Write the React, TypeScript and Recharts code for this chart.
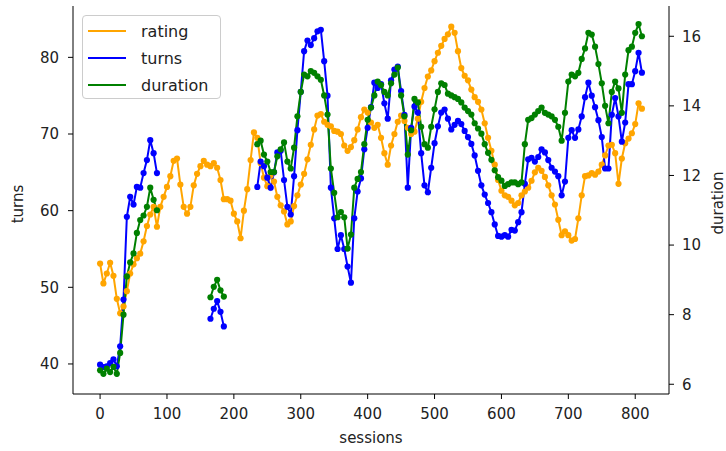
import { LineChart, Line, XAxis, YAxis } from 'recharts'

const RATING = [
  53.1, 50.5, 51.8, 53.2, 51.5, 48.5, 46.6, 47.5, 49.5, 51.8,
  53, 53.8, 54.4, 56, 58, 59.5, 60.5, 57.9, 60.5, 61.8,
  63.1, 64.5, 66.5, 66.8, 63.4, 60.5, 59.6, 60.5, 63.3, 64.8,
  65.8, 66.5, 66, 65.8, 66.2, 65.6, 64, 61.5, 61.5, 61.3,
  59.6, 58.6, 56.4, 60, 62.8, 66.6, 70.2, 69.5, 66.2, 64.3,
  63.2, 64.6, 63.8, 61.8, 60.7, 59.9, 58.2, 58.6, 60.6, 62,
  63.4, 64.8, 66.7, 68.6, 70.6, 72.4, 72.6, 71.6, 71.2, 71,
  70.4, 70.3, 70, 68.5, 67.8, 68.3, 69.2, 70.6, 72.2, 73.2,
  72.8, 71.5, 70.8, 71.2, 69.5, 67.5, 66, 68.5, 70, 71.6,
  72.4, 71.7, 70.8, 70, 70.3, 72, 74.2, 76, 77.5, 78.3,
  79.5, 80.6, 81.5, 82.4, 83, 84, 83.2, 80.8, 78.6, 77.6,
  77, 75.8, 74.8, 74.2, 73.2, 71.4, 69.5, 67.8, 66, 64,
  62.6, 62, 61.8, 61.3, 60.7, 61, 62, 62.5, 63, 63.9,
  65, 65.6, 65.2, 64.4, 63.3, 62, 60.8, 58.8, 56.8, 57.3,
  56.8, 56.1, 56.3, 59, 62, 64.5, 64.6, 64.9, 64.7, 65.1,
  66, 67.2, 68.5, 68.6, 67.5, 63.5, 66.8, 68.8, 69.4, 70.1,
  71.3, 74, 73.3,
]

const TURNS = [
  39.9, 39.6, 39.7, 40.1, 40.6, 39.7, 42.3, 48.4, 59.2, 61.8,
  60.8, 63.1, 63, 64.9, 66.6, 69.2, 67.5, 64.9, null, null,
  null, null, null, null, null, null, null, null, null, null,
  null, null, null, 45.9, 47.2, 48.2, 46.8, 44.9, null, null,
  null, null, null, null, null, null, null, 63.1, 66.4, 65.8,
  64.3, 63, 65, 67.6, 67.8, 64, 60.5, 59.5, 64.5, 70.5,
  75.5, 80.8, 82.2, 81.6, 82.5, 83.4, 83.6, 79.5, 75, 63,
  59, 55, 56.8, 55, 52.7, 50.6, 59, 62.5, 64.2, 68,
  70.8, 73.5, 76.7, 76, 76.5, 74, 72, 77, 78.4, 78.8,
  75.6, 72.5, 63, 70.8, 73.6, 72.8, 67.5, 63.3, 62.4, 65.6,
  68.8, 71, 72.8, 73.2, 72, 70.6, 71.2, 71.7, 71.3, 70.4,
  69.6, 68.7, 67.2, 65.2, 63.3, 62.1, 61, 59.8, 58.2, 56.7,
  56.6, 56.8, 56.6, 57.5, 57.4, 58.5, 59.8, 63.5, 66.7, 66.9,
  66.4, 67, 68, 67.6, 66.6, 65.6, 65.1, 64.5, 62, 63.8,
  69.5, 70.5, 69.5, 70.6, 72.3, 74.8, 76.7, 75, 73.5, 71.8,
  69.6, 65.5, 65.5, 72.5, 74.7, 72.3, 69, 71.5, 76.5, 76.5,
  78.2, 80.6, 78,
]

const DURATION = [
  6.4, 6.3, 6.45, 6.35, 6.5, 6.3, 6.9, 8.0, 9.1, 9.5,
  9.76, 10.35, 10.72, 10.85, 11.1, 11.65, 11.3, 11.0, null, null,
  null, null, null, null, null, null, null, null, null, null,
  null, null, null, 8.5, 8.8, 9.0, 8.7, 8.52, null, null,
  null, null, null, null, null, null, null, 12.9, 13.0, 12.6,
  12.4, 12.1, 12.1, 12.55, 12.75, 12.95, 12.4, 12.2, 12.8, 13.7,
  14.4, 14.9, 14.85, 15.0, 14.95, 14.85, 14.75, 14.3, 13.75, 12.2,
  11.5, 10.8, 10.95, 10.8, 9.9, 10.3, 11.65, 11.9, 12.1, 12.9,
  13.6, 13.95, 14.3, 14.7, 14.6, 14.4, 14.3, 14.65, 14.9, 15.1,
  14.3, 13.7, 12.6, 13.3, 14.2, 14.1, 13.4, 12.9, 12.8, 13.4,
  13.9, 14.4, 14.65, 14.6, 14.35, 14.3, 14.25, 14.2, 14.1, 13.95,
  13.85, 13.75, 13.5, 13.35, 13.2, 12.9, 12.65, 12.45, 12.15, 11.95,
  11.85, 11.7, 11.75, 11.8, 11.8, 11.75, 11.8, 12.9, 13.6, 13.65,
  13.75, 13.85, 13.95, 13.8, 13.75, 13.7, 13.6, 13.4, 13.0, 13.8,
  14.7, 14.9, 14.85, 14.95, 15.35, 15.65, 16.1, 16.05, 15.7, 15.2,
  14.65, 14.0, 13.5, 14.4, 14.7, 14.5, 13.8, 14.9, 15.6, 15.7,
  16.1, 16.35, 16.0,
]

const SESSIONS = RATING.map((_, i) => i * 5)
const X_TICKS = [0, 100, 200, 300, 400, 500, 600, 700, 800]
const TURNS_TICKS = [40, 50, 60, 70, 80]
const DURATION_TICKS = [6, 8, 10, 12, 14, 16]

const SERIES = [
  { key: 'rating', label: 'rating', color: '#FFA500' },
  { key: 'turns', label: 'turns', color: '#0000FF' },
  { key: 'duration', label: 'duration', color: '#008000' },
]

const data = SESSIONS.map((s, i) => ({ s, rating: RATING[i], turns: TURNS[i], duration: DURATION[i] }))

const FONT = 'DejaVu Sans'
const tick = { fontSize: 15, fill: '#222', fontFamily: FONT }

export default function App() {
  return (
    <div style={{ position: 'absolute', left: 0, top: 0, width: 726, height: 451, background: '#fff' }}>
      <LineChart width={726} height={451} data={data} margin={{ top: 6, right: 0, bottom: 0, left: 0 }}>
        <XAxis dataKey="s" type="number" domain={[-40.5, 850.5]} ticks={X_TICKS} allowDataOverflow
          height={57} tick={tick} tickSize={5} tickMargin={9} stroke="#000" />
        <XAxis xAxisId="top" orientation="top" dataKey="s" type="number" domain={[-40.5, 850.5]}
          height={0} tick={false} tickLine={false} stroke="#000" />
        <YAxis yAxisId="left" domain={[36.08, 86.7]} ticks={TURNS_TICKS} allowDataOverflow
          width={73} tick={tick} tickSize={5} tickMargin={9} stroke="#000" />
        <YAxis yAxisId="right" orientation="right" domain={[5.72, 16.87]} ticks={DURATION_TICKS} allowDataOverflow
          width={57} tick={tick} tickSize={5} tickMargin={8} stroke="#000" />
        {SERIES.map((sr) => (
          <Line key={sr.key} yAxisId={sr.key === 'duration' ? 'right' : 'left'} type="linear" dataKey={sr.key}
            stroke={sr.color} strokeWidth={2} dot={{ r: 3.1, fill: sr.color, stroke: 'none' }}
            activeDot={false} isAnimationActive={false} />
        ))}
      </LineChart>

      <svg width={726} height={451} style={{ position: 'absolute', left: 0, top: 0, pointerEvents: 'none' }}>
        <text x={18} y={204} transform="rotate(-90 18 204)" textAnchor="middle" dominantBaseline="central"
          fontSize={15} fontFamily={FONT} fill="#222">turns</text>
        <text x={718} y={203} transform="rotate(-90 718 203)" textAnchor="middle" dominantBaseline="central"
          fontSize={15} fontFamily={FONT} fill="#222">duration</text>
        <text x={371} y={438} textAnchor="middle" dominantBaseline="central"
          fontSize={15} fontFamily={FONT} fill="#222">sessions</text>
      </svg>

      <div style={{ position: 'absolute', left: 82, top: 15, width: 139, height: 84, boxSizing: 'border-box',
        border: '1px solid #ccc', borderRadius: 4, background: 'rgba(255,255,255,0.8)', fontFamily: FONT, fontSize: 16, color: '#222' }}>
        {SERIES.map((sr, i) => (
          <div key={sr.key} style={{ position: 'absolute', left: 0, top: 3 + i * 27, height: 24, display: 'flex', alignItems: 'center' }}>
            <span style={{ display: 'inline-block', marginLeft: 5, width: 38, height: 2, background: sr.color }} />
            <span style={{ marginLeft: 15 }}>{sr.label}</span>
          </div>
        ))}
      </div>
    </div>
  )
}
